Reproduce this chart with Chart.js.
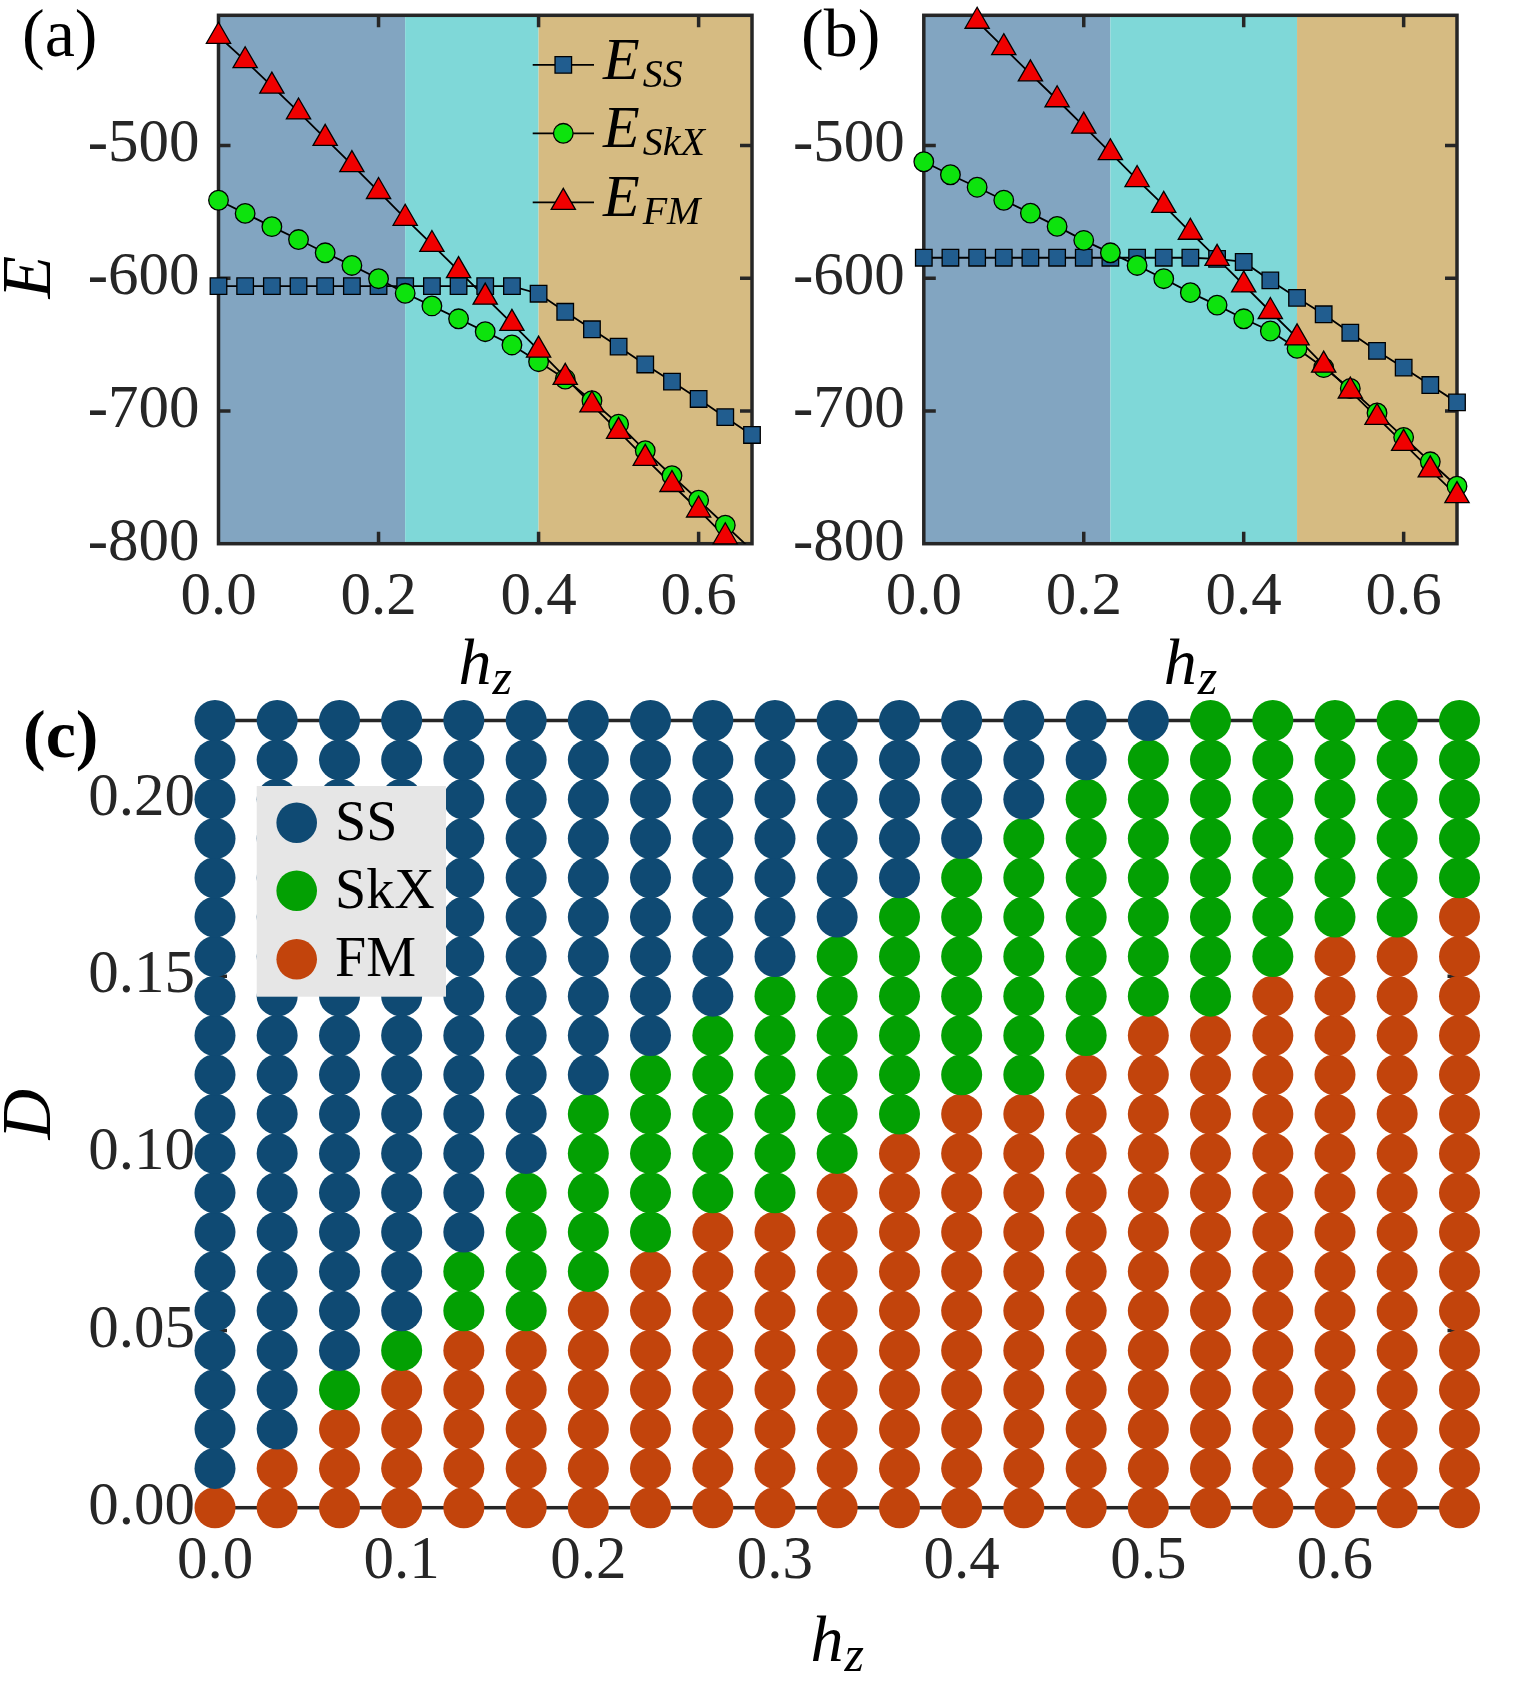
<!DOCTYPE html>
<html>
<head>
<meta charset="utf-8">
<script src="https://cdn.jsdelivr.net/npm/chart.js@4.4.1/dist/chart.umd.min.js"></script>
<style>
  html, body { margin: 0; padding: 0; background: #fff; }
  #wrap { position: relative; width: 1525px; height: 1694px; }
  canvas { position: absolute; }
</style>
</head>
<body>
<div id="wrap">
  <canvas id="chartA" width="770" height="720" style="left:0;top:0"></canvas>
  <canvas id="chartB" width="755" height="720" style="left:770px;top:0"></canvas>
  <canvas id="chartC" width="1525" height="1014" style="left:0;top:680px"></canvas>
</div>
<script>
// field values (h_z) shared by all panels
const hz = [0, 0.0333, 0.0667, 0.1, 0.1333, 0.1667, 0.2, 0.2333, 0.2667, 0.3, 0.3333,
            0.3667, 0.4, 0.4333, 0.4667, 0.5, 0.5333, 0.5667, 0.6, 0.6333, 0.6667];

// panel (a) energies
const essA  = [-606, -606, -606, -606, -606, -606, -606, -606, -606, -606, -606,
               -606, -611.7, -625.3, -638.5, -651.6, -665.0, -677.9, -691.0, -704.7, -718.1];
const eskxA = [-541.3, -551.2, -561.2, -570.9, -580.9, -590.4, -600.4, -611.4, -620.9, -630.6, -640.3,
               -650.3, -662.9, -676.0, -692.3, -709.9, -729.9, -748.8, -767.2, -786.1, -805];
const efmA  = [-417.8, -436.2, -455.3, -474.8, -494.7, -514.5, -534.7, -554.9, -574.6, -594.3, -614.3,
               -634.0, -654.2, -674.7, -695.5, -715.4, -735.7, -755.4, -774.6, -794.8, -815];

// panel (b) energies
const essB  = [-584.6, -584.6, -584.6, -584.6, -584.6, -584.6, -584.6, -584.6, -584.6, -584.6, -584.6,
               -585.5, -587.8, -601.7, -614.8, -627.2, -641.1, -654.8, -667.4, -680.5, -693.6];
const eskxB = [-512.3, -522.1, -531.5, -541.3, -551.0, -561.0, -571.5, -580.9, -590.4, -600.4, -610.9,
               -620.3, -630.6, -639.8, -652.9, -667.4, -683.1, -701.5, -719.9, -738.3, -756.7];
const efmB  = [null, null, -406.5, -426.4, -446.1, -465.6, -485.5, -505.5, -525.7, -545.2, -565.4,
               -585.1, -605.1, -625.1, -645.0, -665.5, -685.0, -704.9, -724.4, -744.4, -763.8];

// phase boundaries used for the shaded bands
const bandsA = [0, 0.2333, 0.4, 0.6667];
const bandsB = [0, 0.2333, 0.4667, 0.6667];
const bandColors = ['#82a5c1', '#7fd8d8', '#d6bb82'];

const energyTicks = [-800, -700, -600, -500];
const hzTicksAB = [0, 0.2, 0.4, 0.6];

// panel (c): D grid and number of FM / SkX points (from the bottom) in each h_z column
const dGrid = [0, 0.0111, 0.0222, 0.0333, 0.0444, 0.0556, 0.0667, 0.0778, 0.0889, 0.1, 0.1111,
               0.1222, 0.1333, 0.1444, 0.1556, 0.1667, 0.1778, 0.1889, 0.2, 0.2111, 0.2222];
const fmCount  = [1, 2, 3, 4, 5, 5, 6, 7, 8, 8, 9, 10, 11, 11, 12, 13, 13, 14, 15, 15, 16];
const skxCount = [0, 0, 1, 1, 2, 4, 5, 5, 5, 6, 6, 6, 6, 7, 7, 7, 8, 7, 6, 6, 5];
const hzTicksC = [0, 0.1, 0.2, 0.3, 0.4, 0.5, 0.6];
const dTicks = [0, 0.05, 0.1, 0.15, 0.2];

const SERIF = '"Liberation Serif", "Times New Roman", serif';
const AXIS = '#262626';
const TICK_FONT = 61;
Chart.defaults.font.family = SERIF;
Chart.defaults.animation = false;

function pts(arr) {
    return hz.map((h, i) => ({ x: h, y: arr[i] })).filter(p => p.y !== null);
}

function subText(ctx, x, y, main, sub, o) {
    ctx.save();
    ctx.fillStyle = o.color || '#000';
    ctx.textAlign = 'left';
    ctx.textBaseline = 'alphabetic';
    const f1 = `italic ${o.size}px ${SERIF}`;
    const f2 = `italic ${o.subSize}px ${SERIF}`;
    ctx.font = f1;
    const w1 = ctx.measureText(main).width;
    ctx.font = f2;
    const w2 = ctx.measureText(sub).width;
    const x0 = o.align === 'center' ? x - (w1 + o.gap + w2) / 2 : x;
    ctx.font = f1;
    ctx.fillText(main, x0, y);
    ctx.font = f2;
    ctx.fillText(sub, x0 + w1 + o.gap, y + o.dy);
    ctx.restore();
}

function plainText(ctx, x, y, txt, font, rotate) {
    ctx.save();
    ctx.fillStyle = '#000';
    ctx.font = font;
    ctx.translate(x, y);
    if (rotate) {
        ctx.rotate(-Math.PI / 2);
        ctx.textAlign = 'center';
        ctx.textBaseline = 'middle';
    } else {
        ctx.textAlign = 'left';
        ctx.textBaseline = 'alphabetic';
    }
    ctx.fillText(txt, 0, 0);
    ctx.restore();
}

function drawMarker(ctx, style, x, y, r, fill) {
    ctx.beginPath();
    if (style === 'rect') {
        const s = r * Math.SQRT1_2;
        ctx.rect(x - s, y - s, 2 * s, 2 * s);
    } else if (style === 'circle') {
        ctx.arc(x, y, r, 0, 2 * Math.PI);
    } else {
        ctx.moveTo(x, y - r);
        ctx.lineTo(x + 0.866 * r, y + 0.5 * r);
        ctx.lineTo(x - 0.866 * r, y + 0.5 * r);
        ctx.closePath();
    }
    ctx.fillStyle = fill;
    ctx.fill();
    ctx.lineWidth = 1.3;
    ctx.strokeStyle = '#000';
    ctx.stroke();
}

function drawFrame(chart, xTicks, yTicks, tl) {
    const { ctx, chartArea: a, scales: { x, y } } = chart;
    ctx.save();
    ctx.strokeStyle = AXIS;
    ctx.lineWidth = 3.5;
    ctx.strokeRect(a.left, a.top, a.right - a.left, a.bottom - a.top);
    ctx.beginPath();
    xTicks.forEach(v => {
        const px = x.getPixelForValue(v);
        ctx.moveTo(px, a.bottom); ctx.lineTo(px, a.bottom - tl);
        ctx.moveTo(px, a.top); ctx.lineTo(px, a.top + tl);
    });
    yTicks.forEach(v => {
        const py = y.getPixelForValue(v);
        ctx.moveTo(a.left, py); ctx.lineTo(a.left + tl, py);
        ctx.moveTo(a.right, py); ctx.lineTo(a.right - tl, py);
    });
    ctx.stroke();
    ctx.restore();
}

// keep the plot boxes exactly where they sit in the figure
function fixX(h) {
    return s => { s.height = h; s.paddingLeft = 0; s.paddingRight = 0; };
}
function fixY(w) {
    return s => { s.width = w; s.paddingTop = 0; s.paddingBottom = 0; };
}

const series = [
    { style: 'rect', color: '#215d8f', r: 11.7, name: 'SS' },
    { style: 'circle', color: '#0de30d', r: 9.8, name: 'SkX' },
    { style: 'triangle', color: '#f00000', r: 14, name: 'FM' }
];

function energyChart(id, data, bands, g) {
    const yMin = -800, yMax = -402;
    const datasets = [];
    data.forEach((arr, i) => {
        datasets.push({
            data: pts(arr), showLine: true, borderColor: '#000', borderWidth: 1.8,
            pointRadius: 0, order: 10 + i
        });
    });
    data.forEach((arr, i) => {
        const s = series[i];
        datasets.push({
            data: pts(arr), showLine: false, clip: false, order: 3 - i,
            pointStyle: s.style,
            pointRadius: c => (c.raw && c.raw.y >= yMin && c.raw.y <= yMax) ? s.r : 0,
            pointBackgroundColor: s.color, pointBorderColor: '#000', pointBorderWidth: 1.3
        });
    });

    const deco = {
        id: 'deco' + id,
        beforeDatasetsDraw(chart) {
            const { ctx, chartArea: a, scales: { x } } = chart;
            ctx.save();
            for (let i = 0; i < bandColors.length; i++) {
                const x0 = x.getPixelForValue(bands[i]);
                const x1 = x.getPixelForValue(bands[i + 1]);
                ctx.fillStyle = bandColors[i];
                ctx.fillRect(x0, a.top, x1 - x0, a.bottom - a.top);
            }
            ctx.restore();
            drawFrame(chart, hzTicksAB.slice(1), energyTicks.slice(1), 12);
        },
        afterDraw(chart) {
            const ctx = chart.ctx;
            const a = chart.chartArea;
            plainText(ctx, g.labelX, 56, g.label, `68px ${SERIF}`);
            subText(ctx, (a.left + a.right) / 2, 684, 'h', 'z',
                { size: 66, subSize: 50, gap: 1, dy: 10, align: 'center' });
            if (g.showE) {
                plainText(ctx, 32, 277, 'E', `italic 70px ${SERIF}`, true);
            }
            if (g.legend) {
                const rows = [64.9, 133.3, 202.4];
                series.forEach((s, i) => {
                    ctx.save();
                    ctx.strokeStyle = '#000';
                    ctx.lineWidth = 1.8;
                    ctx.beginPath();
                    ctx.moveTo(532.7, rows[i]); ctx.lineTo(594, rows[i]);
                    ctx.stroke();
                    drawMarker(ctx, s.style, 563.3, rows[i], s.r, s.color);
                    ctx.restore();
                    subText(ctx, 603, rows[i] + 14, 'E', s.name,
                        { size: 60, subSize: 40, gap: 3, dy: 8, align: 'left' });
                });
            }
        }
    };

    return new Chart(document.getElementById(id), {
        type: 'scatter',
        data: { datasets },
        options: {
            responsive: false,
            devicePixelRatio: 1,
            events: [],
            layout: { padding: { top: 12.3, right: g.padRight, left: 0, bottom: 0 } },
            plugins: { legend: { display: false }, tooltip: { enabled: false } },
            scales: {
                x: {
                    type: 'linear', min: 0, max: 0.6667,
                    grid: { display: false, drawTicks: false }, border: { display: false },
                    afterBuildTicks: s => { s.ticks = hzTicksAB.map(v => ({ value: v })); },
                    afterFit: fixX(720 - 543.7),
                    ticks: {
                        callback: v => v.toFixed(1), color: AXIS, font: { size: TICK_FONT },
                        padding: 17.5, autoSkip: false, maxRotation: 0
                    }
                },
                y: {
                    type: 'linear', min: yMin, max: yMax,
                    grid: { display: false, drawTicks: false }, border: { display: false },
                    afterBuildTicks: s => { s.ticks = energyTicks.map(v => ({ value: v })); },
                    afterFit: fixY(g.yWidth),
                    ticks: {
                        callback: v => String(v), color: AXIS, font: { size: TICK_FONT },
                        padding: g.yPad, autoSkip: false
                    }
                }
            }
        },
        plugins: [deco]
    });
}

energyChart('chartA', [essA, eskxA, efmA], bandsA,
    { yWidth: 218.5, padRight: 18, yPad: 19, label: '(a)', labelX: 22, showE: true, legend: true });
energyChart('chartB', [essB, eskxB, efmB], bandsB,
    { yWidth: 153.8, padRight: 68, yPad: 19, label: '(b)', labelX: 31, showE: false, legend: false });

// ---- panel (c): phase diagram ----
const phases = [
    { name: 'SS', color: '#0f4a73', pts: [] },
    { name: 'SkX', color: '#03a003', pts: [] },
    { name: 'FM', color: '#c2440c', pts: [] }
];
hz.forEach((h, i) => {
    dGrid.forEach((d, j) => {
        let k = 0;
        if (j < fmCount[i]) k = 2;
        else if (j < fmCount[i] + skxCount[i]) k = 1;
        phases[k].pts.push({ x: h, y: d });
    });
});

const decoC = {
    id: 'decoC',
    beforeDatasetsDraw(chart) {
        drawFrame(chart, [], dTicks.slice(1, -1), 12);
    },
    afterDraw(chart) {
        const ctx = chart.ctx;
        const a = chart.chartArea;
        // legend box
        ctx.save();
        ctx.fillStyle = '#e6e6e6';
        ctx.fillRect(256.7, 106, 189.3, 210.7);
        const rows = [142.7, 210.7, 279.3];
        phases.forEach((p, i) => {
            ctx.beginPath();
            ctx.arc(296.7, rows[i], 20.3, 0, 2 * Math.PI);
            ctx.fillStyle = p.color;
            ctx.fill();
            ctx.fillStyle = '#000';
            ctx.font = `56px ${SERIF}`;
            ctx.textAlign = 'left';
            ctx.textBaseline = 'alphabetic';
            ctx.fillText(p.name, 335, rows[i] + 17);
        });
        ctx.restore();
        plainText(ctx, 23, 77, '(c)', `bold 68px ${SERIF}`);
        plainText(ctx, 32, (a.top + a.bottom) / 2, 'D', `italic 70px ${SERIF}`, true);
        subText(ctx, (a.left + a.right) / 2, 981, 'h', 'z',
            { size: 66, subSize: 50, gap: 1, dy: 10, align: 'center' });
    }
};

new Chart(document.getElementById('chartC'), {
    type: 'scatter',
    data: {
        datasets: phases.map(p => ({
            label: p.name, data: p.pts, clip: false,
            pointStyle: 'circle', pointRadius: 20.5, pointBorderWidth: 0,
            pointBackgroundColor: p.color, pointBorderColor: p.color
        }))
    },
    options: {
        responsive: false,
        devicePixelRatio: 1,
        events: [],
        layout: { padding: { top: 40.5, right: 65.5, left: 0, bottom: 0 } },
        plugins: { legend: { display: false }, tooltip: { enabled: false } },
        scales: {
            x: {
                type: 'linear', min: 0, max: 0.6667,
                grid: { display: false, drawTicks: false }, border: { display: false },
                afterBuildTicks: s => { s.ticks = hzTicksC.map(v => ({ value: v })); },
                afterFit: fixX(1014 - 827.7),
                ticks: {
                    callback: v => v.toFixed(1), color: AXIS, font: { size: TICK_FONT },
                    padding: 17.5, autoSkip: false, maxRotation: 0
                }
            },
            y: {
                type: 'linear', min: 0, max: 0.2222,
                grid: { display: false, drawTicks: false }, border: { display: false },
                afterBuildTicks: s => { s.ticks = dTicks.map(v => ({ value: v })); },
                afterFit: fixY(215),
                ticks: {
                    callback: v => v.toFixed(2), color: AXIS, font: { size: TICK_FONT },
                    padding: 20, autoSkip: false
                }
            }
        }
    },
    plugins: [decoC]
});
</script>
</body>
</html>
